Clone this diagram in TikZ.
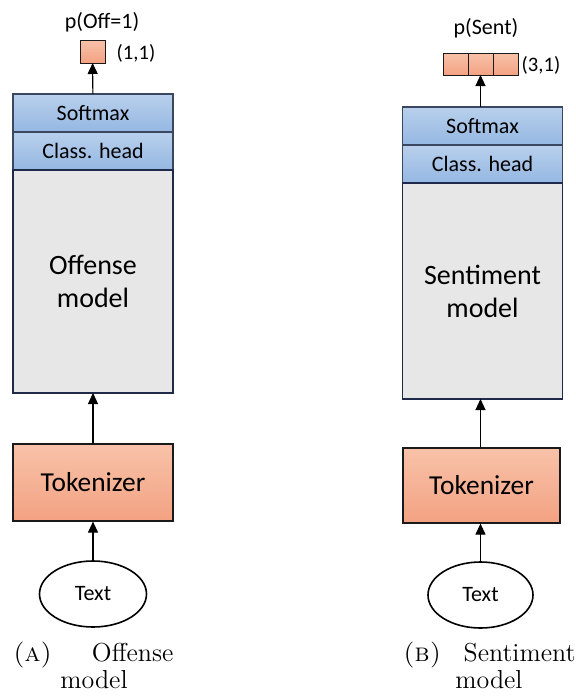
\documentclass[tikz,border=0pt]{standalone}
\usepackage{fontspec}
\newfontfamily\calibri{Carlito}
\usetikzlibrary{arrows.meta,positioning,shapes.geometric}
\definecolor{ink}{HTML}{1A1A1A}
\definecolor{edge}{HTML}{3B4660}
\definecolor{navy}{HTML}{1F2A4A}
\definecolor{bluetop}{HTML}{B9D0EC}
\definecolor{bluebot}{HTML}{94B7E2}
\definecolor{peachtop}{HTML}{F8C2A9}
\definecolor{peachbot}{HTML}{F3A282}
\definecolor{modelgray}{HTML}{E7E7E7}
\tikzset{
  >={Triangle[length=5.5pt,width=5pt]},
  headblock/.style={draw=edge,line width=.6pt,top color=bluetop,bottom color=bluebot,minimum width=80pt,minimum height=19pt,inner sep=0pt,outer sep=0pt,font=\calibri\fontsize{11}{13}\selectfont},
  modelblock/.style={draw=navy,line width=.8pt,fill=modelgray,minimum width=80pt,inner sep=0pt,outer sep=0pt,align=center,font=\calibri\fontsize{14}{16.5}\selectfont},
  tokblock/.style={draw=ink,line width=.6pt,top color=peachtop,bottom color=peachbot,minimum width=80pt,inner sep=0pt,font=\calibri\fontsize{13.7}{16}\selectfont},
  outcell/.style={draw=ink,line width=.5pt,top color=peachtop,bottom color=peachbot,minimum width=12.5pt,minimum height=11pt,inner sep=0pt,outer sep=0pt},
  textin/.style={ellipse,draw=black,line width=.8pt,minimum width=53.5pt,minimum height=33pt,inner sep=0pt,font=\calibri\fontsize{11}{13}\selectfont},
  plabel/.style={font=\calibri\fontsize{11}{13}\selectfont},
  dimlabel/.style={font=\calibri\fontsize{10.3}{12}\selectfont},
  flow/.style={->,line width=.55pt,draw=black},
  subcap/.style={anchor=north west,inner sep=0pt,align=left,font=\fontsize{13}{13.5}\selectfont},
}

\begin{document}
\begin{tikzpicture}[x=.5pt,y=-.5pt]
  \useasboundingbox (0,0) rectangle (576,697);
  % (A) offense model
  \node[headblock] (smA) at (93,113) {Softmax};
  \node[headblock,below=0pt of smA] (chA) {Class. head};
  \node[modelblock,minimum height=111.5pt,below=0pt of chA] (modA) {Offense\\model};
  \node[tokblock,minimum height=38.5pt] (tokA) at (93,482.5) {Tokenizer};
  \node[textin] (inA) at (93,594) {Text};
  \node[outcell,minimum height=11.5pt] (outA) at (92.5,51.5) {};
  \node[dimlabel] (dimA) at (136,53) {(1,1)};
  \node[plabel] (pA) at (102,22) {p(Off=1)};
  \draw[flow] (inA) -- (tokA);
  \draw[flow] (tokA) -- (modA);
  \draw[flow] (smA) -- (outA);
  \node[subcap,text width=80pt] (capA) at (13,642) {\textsc{(a)}\hfill Offense\\\hspace*{23.5pt}model};
  % (B) sentiment model
  \node[headblock] (smB) at (482.5,126) {Softmax};
  \node[headblock,below=0pt of smB] (chB) {Class. head};
  \node[modelblock,minimum height=108pt,below=0pt of chB] (modB) {Sentiment\\model};
  \node[tokblock,minimum width=78.5pt,minimum height=37.5pt] (tokB) at (481.5,485.5) {Tokenizer};
  \node[textin,minimum width=52.5pt] (inB) at (480.5,595) {Text};
  \foreach \i in {1,2,3}
    {\node[outcell] (outB\i) at (430.5+25*\i,64) {};}
  \node[dimlabel] (dimB) at (541,65) {(3,1)};
  \node[plabel] (pB) at (486,28) {p(Sent)};
  \draw[flow] (inB) -- (tokB.south -| inB);
  \draw[flow] (tokB.north -| inB) -- (modB.south -| inB);
  \draw[flow] (smB.north -| outB2) -- (outB2);
  \node[subcap,text width=86pt] (capB) at (403,642) {\textsc{(b)}\hfill Sentiment\\\hspace*{26pt}model};
\end{tikzpicture}
\end{document}
